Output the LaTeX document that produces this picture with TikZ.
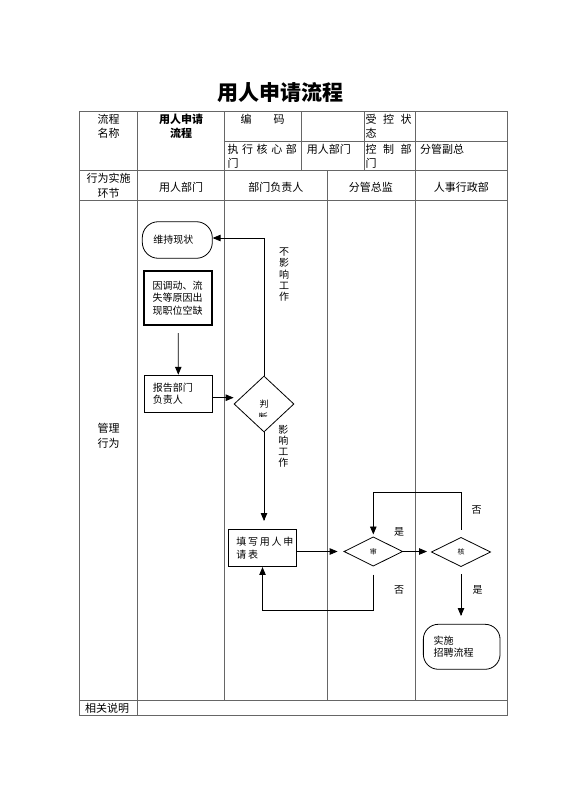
\documentclass[tikz,border=0pt]{standalone}
\usepackage{fontspec}
\newfontfamily\cjk{Noto Sans CJK SC}
\usetikzlibrary{arrows,positioning,shapes.geometric}

\tikzset{
  grid/.style={draw=black!60, line width=0.8pt},
  cell/.style={inner sep=0pt, align=center, font=\cjk\fontsize{11}{14}\selectfont},
  cellL/.style={cell, align=left, anchor=west},
  box/.style={draw, line width=0.8pt, inner xsep=8.5pt, inner ysep=0pt, align=left,
    font=\cjk\fontsize{10}{12.5}\selectfont},
  stadium/.style={box, rounded corners=16pt},
  choice/.style={diamond, draw, line width=0.8pt, inner sep=0pt,
    font=\cjk\fontsize{7}{8}\selectfont},
  flow/.style={line width=0.8pt, -triangle 45},
  tag/.style={inner sep=0pt, align=center, font=\cjk\fontsize{10}{11.3}\selectfont}
}

\begin{document}
\begin{tikzpicture}[x=1pt, y=-1pt]
  \useasboundingbox (0,0) rectangle (560,792);

  % title
  \node[font=\cjk\bfseries\fontsize{21}{24}\selectfont] (title) at (280, 93) {用人申请流程};

  % table frame
  \draw[grid] (79.3,111.7) rectangle (507.3,715.7);
  \draw[grid] (224.3,141) -- (507.3,141);
  \draw[grid] (79.3,170.7) -- (507.3,170.7);
  \draw[grid] (79.3,200.7) -- (507.3,200.7);
  \draw[grid] (79.3,700.3) -- (507.3,700.3);
  \draw[grid] (137.7,111.7) -- (137.7,715.7);
  \draw[grid] (224.3,111.7) -- (224.3,700.3);
  \draw[grid] (301.7,111.7) -- (301.7,170.7);
  \draw[grid] (364,111.7) -- (364,170.7);
  \draw[grid] (415,111.7) -- (415,700.3);
  \draw[grid] (327.3,170.7) -- (327.3,700.3);

  % header cells
  \node[cell] (nameHead) at (108.5, 126.3) {流程\\名称};
  \node[cell, font=\cjk\bfseries\fontsize{11}{14}\selectfont] (nameText) at (181, 126.3) {用人申请\\流程};
  \node[cell] (codeHead) at (262.5, 119.3) {编\hspace{22pt}码};
  \node[cellL] (stateHead) at (365.5, 126.3) {受\kern6.5pt 控\kern6.5pt 状\\态};
  \node[cellL] (execHead) at (227.3, 156.3) {执\kern3.6pt 行\kern3.6pt 核\kern3.6pt 心\kern3.6pt 部\\门};
  \node[cellL] (execText) at (306.7, 149.3) {用人部门};
  \node[cellL] (ctrlHead) at (365.5, 156.3) {控\kern6.5pt 制\kern6.5pt 部\\门};
  \node[cellL] (ctrlText) at (420, 149.3) {分管副总};

  % lane heads
  \node[cell, font=\cjk\fontsize{11}{15}\selectfont] (stepHead) at (108.5, 185.8) {行为实施\\环节};
  \node[cell] (laneA) at (181, 187.3) {用人部门};
  \node[cell] (laneB) at (275.8, 187.3) {部门负责人};
  \node[cell] (laneC) at (370.8, 187.3) {分管总监};
  \node[cell] (laneD) at (461.3, 187.3) {人事行政部};
  \node[cell, font=\cjk\fontsize{11}{15}\selectfont] (manage) at (108.5, 435.8) {管理\\行为};
  \node[cellL] (notes) at (85, 708.3) {相关说明};

  % flow nodes
  \node[stadium, minimum width=70pt, minimum height=36.6pt, text width=48pt, inner xsep=11pt] (keep) at (177.3, 240) {维持现状};
  \node[box, line width=2pt, minimum width=68.3pt, minimum height=54pt, text width=51pt] (vacancy) at (178.2, 298) {因调动、流\\失等原因出\\现职位空缺};
  \node[box, minimum width=68pt, minimum height=37.3pt, text width=51pt] (report) at (178.3, 393.7) {报告部门\\负责人};
  \node[choice, minimum width=60pt, minimum height=56pt, font=\cjk\fontsize{9}{10}\selectfont] (judge) at (264, 404) {判};
  \begin{scope}
    \clip (250,412.5) rectangle (280,416.5);
    \node[tag, font=\cjk\fontsize{9}{10}\selectfont] (judgeTail) at (263, 417.5) {断};
  \end{scope}
  \node[box, minimum width=68.4pt, minimum height=37.4pt, text width=60.5pt, inner xsep=3.95pt] (form) at (262.5, 548) {\hspace*{4pt}填\kern1.8pt 写\kern1.8pt 用\kern1.8pt 人\kern1.8pt 申\\\hspace*{4pt}请\kern1.8pt 表};
  \node[choice, minimum width=58.7pt, minimum height=29.3pt] (review) at (373.3, 551.5) {审};
  \node[choice, minimum width=59.3pt, minimum height=29.3pt] (approve) at (461, 552) {核};
  \node[stadium, minimum width=76.7pt, minimum height=45pt, text width=56pt, inner xsep=10pt, rounded corners=15pt] (recruit) at (461.7, 646.8) {实施\\招聘流程};

  % connectors
  \draw[flow, shorten <=7pt] (vacancy.south) -- (report.north);
  \draw[flow] ([yshift=-4pt]report.east) -- ([yshift=-4pt]report.east -| judge.west);
  \draw[flow] (judge.north) |- ([yshift=2pt]keep.east);
  \draw[flow, shorten >=8pt] (judge.south) -- (judge.south |- form.north);
  \draw[flow, shorten >=6pt] (form.east |- review.west) -- (review.west);
  \draw[flow, shorten >=4pt] (review.east) -- (review.east -| approve.west);
  \draw[flow, shorten <=7pt, shorten >=2pt] (approve.north) -- (approve.north |- 0,492.7) -| (review.north);
  \draw[flow, shorten <=8pt] (review.south) -- (review.south |- 0,610) -| (form.south);
  \draw[flow, shorten <=7pt, shorten >=8pt] (approve.south) -- (approve.south |- recruit.north);

  % connector labels
  \node[tag] (noEffect) at (284, 274.8) {不\\影\\响\\工\\作};
  \node[tag] (effect) at (283.3, 446.3) {影\\响\\工\\作};
  \node[tag] (yesA) at (399, 531.7) {是};
  \node[tag] (noA) at (399, 590) {否};
  \node[tag] (noB) at (476.7, 510) {否};
  \node[tag] (yesB) at (477.7, 590) {是};
\end{tikzpicture}
\end{document}
